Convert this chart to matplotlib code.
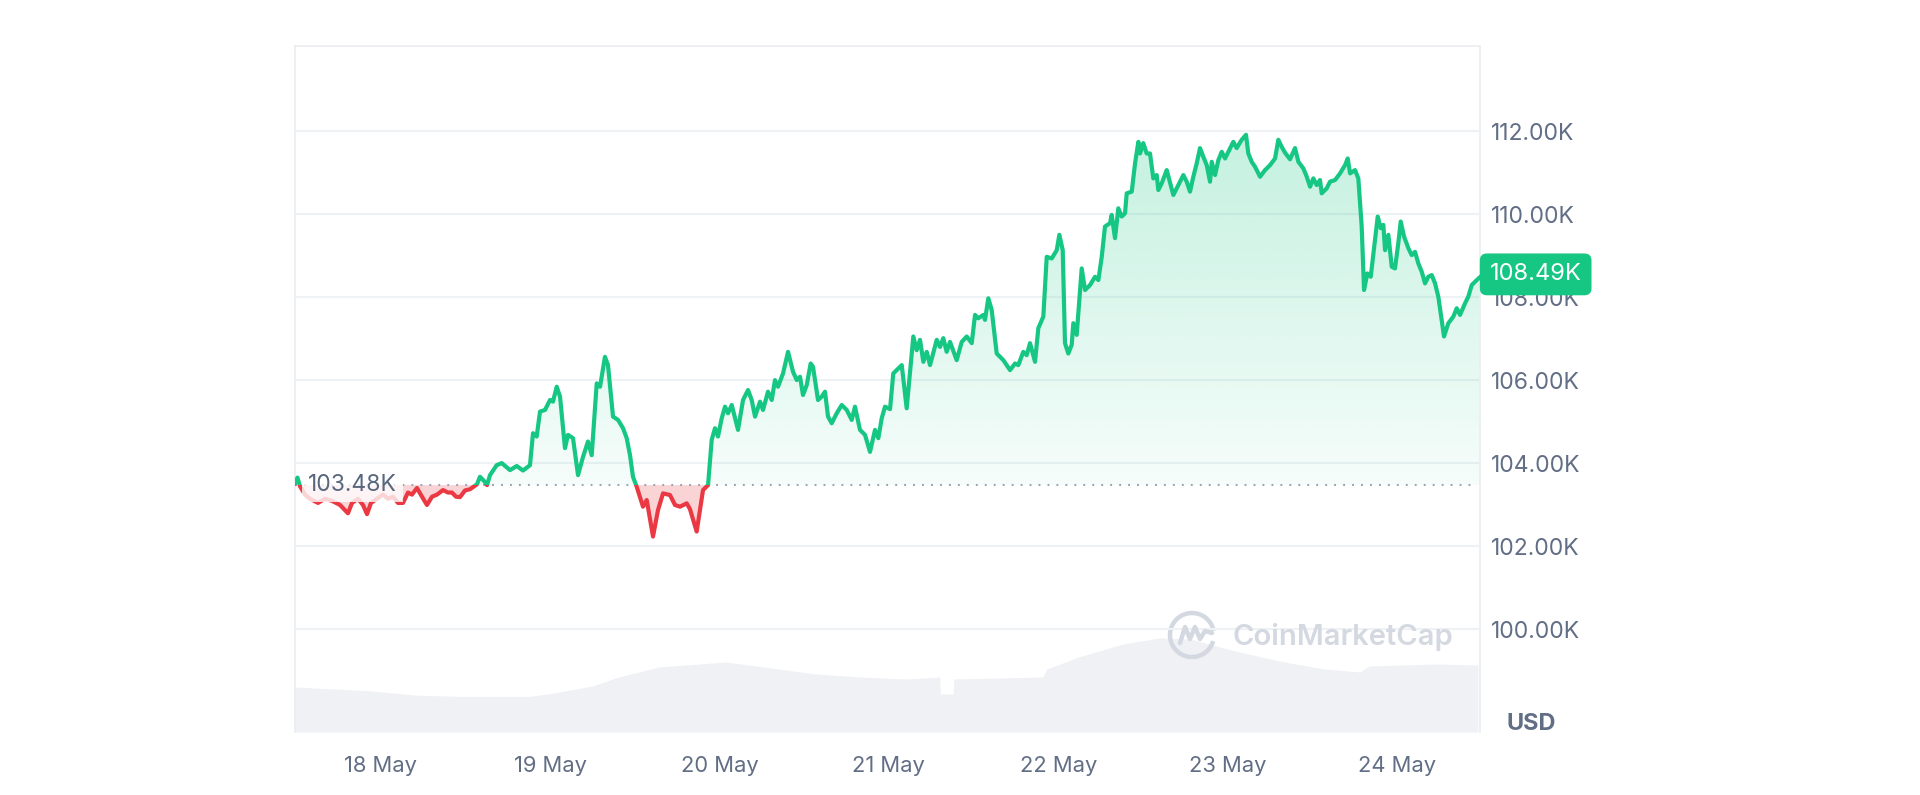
import numpy as np
import matplotlib
matplotlib.use("Agg")
import matplotlib.pyplot as plt
from matplotlib.path import Path
from matplotlib.patches import Rectangle, Arc
from matplotlib.lines import Line2D

plt.rcParams['font.family'] = ['Inter', 'DejaVu Sans']

# hours since 18 May 00:00, BTC price in thousands of USD
hours = [-12.19, -11.84, -11.48, -10.77, -10.07, -8.93, -7.94, -6.95, -5.81, -4.68,
         -4.11, -3.26, -2.55, -1.98, -1.42, -0.57, 0.28, 0.99, 1.70, 2.41,
         3.12, 3.83, 4.39, 5.10, 5.81, 6.52, 7.23, 7.94, 8.79, 9.50,
         10.06, 10.63, 11.20, 11.91, 12.62, 13.04, 13.61, 14.03, 14.60, 15.03,
         15.45, 16.40, 17.11, 18.29, 19.24, 20.13, 21.12, 21.55, 22.07, 22.54,
         23.25, 23.96, 24.38, 24.91, 25.38, 26.08, 26.51, 27.22, 27.93, 28.64,
         29.34, 29.87, 30.58, 31.05, 31.75, 32.18, 32.89, 33.60, 34.31, 34.83,
         35.30, 35.72, 36.25, 37.14, 37.67, 38.56, 39.27, 39.98, 40.97, 41.68,
         42.39, 43.34, 43.80, 44.75, 45.65, 46.36, 46.88, 47.35, 47.77, 48.30,
         48.77, 49.19, 49.72, 50.61, 51.32, 52.03, 52.55, 53.02, 53.73, 54.15,
         54.86, 55.39, 55.85, 56.28, 56.99, 57.70, 58.41, 58.93, 59.40, 59.82,
         60.35, 60.91, 61.24, 61.95, 62.47, 62.94, 63.37, 63.89, 64.60, 65.31,
         66.02, 66.73, 67.19, 67.90, 68.61, 69.32, 70.03, 70.50, 70.98, 71.45,
         72.16, 72.62, 73.82, 74.52, 75.46, 75.94, 76.41, 76.88, 77.36, 77.83,
         78.78, 79.24, 79.71, 80.19, 80.66, 81.61, 82.32, 83.03, 83.74, 84.21,
         84.67, 85.38, 85.62, 86.09, 86.57, 87.28, 88.22, 89.17, 89.88, 90.34,
         91.05, 91.53, 92.00, 92.71, 93.18, 93.89, 94.37, 95.08, 95.79, 96.16,
         96.64, 96.96, 97.43, 97.91, 98.14, 98.62, 99.33, 99.80, 100.51, 101.22,
         101.69, 102.17, 102.63, 103.34, 103.58, 104.05, 104.52, 105.00, 105.47, 105.71,
         106.42, 106.89, 107.36, 107.60, 108.06, 108.54, 109.01, 109.48, 109.96, 110.19,
         110.67, 111.38, 112.32, 113.03, 113.74, 114.21, 114.68, 115.15, 115.63, 116.10,
         116.57, 117.05, 117.52, 117.76, 118.23, 118.70, 119.18, 119.65, 120.12, 120.82,
         121.30, 122.01, 122.62, 122.95, 123.43, 123.90, 124.61, 125.32, 126.03, 126.74,
         127.20, 127.68, 128.15, 128.86, 129.57, 130.04, 130.75, 131.23, 131.70, 132.16,
         132.64, 133.11, 133.35, 134.06, 134.53, 135.24, 135.95, 136.66, 137.04, 137.37,
         138.08, 138.54, 139.02, 139.35, 139.82, 140.30, 140.91, 141.29, 141.72, 142.09,
         142.33, 142.80, 143.28, 143.74, 144.21, 144.55, 145.02, 145.63, 146.11, 146.58,
         147.05, 147.53, 148.00, 148.46, 148.95, 149.42, 149.88, 150.36, 150.69, 151.30,
         152.01, 152.49, 152.96, 153.67, 154.13, 154.62, 155.33, 155.79]
price_k = [103.52, 103.66, 103.45, 103.25, 103.15, 103.05, 103.15, 103.10, 103.00, 102.80,
           103.05, 103.15, 103.00, 102.78, 103.05, 103.15, 103.25, 103.15, 103.20, 103.05,
           103.05, 103.30, 103.25, 103.41, 103.20, 103.00, 103.20, 103.25, 103.36, 103.30,
           103.30, 103.20, 103.19, 103.35, 103.38, 103.43, 103.50, 103.68, 103.58, 103.48,
           103.72, 103.96, 104.01, 103.84, 103.94, 103.83, 103.96, 104.73, 104.65, 105.25,
           105.29, 105.53, 105.49, 105.85, 105.61, 104.37, 104.69, 104.61, 103.72, 104.16,
           104.53, 104.20, 105.93, 105.85, 106.57, 106.37, 105.13, 105.05, 104.85, 104.61,
           104.20, 103.68, 103.44, 102.96, 103.12, 102.24, 102.88, 103.28, 103.24, 103.00,
           102.96, 103.04, 102.90, 102.36, 103.36, 103.48, 104.57, 104.85, 104.65, 105.09,
           105.37, 105.21, 105.41, 104.81, 105.53, 105.77, 105.53, 105.13, 105.49, 105.29,
           105.73, 105.53, 106.01, 105.85, 106.17, 106.69, 106.21, 106.01, 106.09, 105.65,
           105.89, 106.41, 106.33, 105.53, 105.61, 105.73, 105.13, 104.97, 105.21, 105.41,
           105.29, 105.05, 105.37, 104.81, 104.69, 104.28, 104.81, 104.61, 105.09, 105.37,
           105.31, 106.17, 106.37, 105.33, 107.06, 106.73, 106.98, 106.45, 106.69, 106.37,
           106.98, 106.81, 107.02, 106.69, 106.93, 106.49, 106.93, 107.06, 106.90, 107.58,
           107.50, 107.58, 107.46, 107.98, 107.70, 106.65, 106.49, 106.25, 106.41, 106.37,
           106.69, 106.61, 106.90, 106.45, 107.26, 107.54, 108.98, 108.94, 109.14, 109.51,
           109.14, 106.90, 106.65, 106.86, 107.38, 107.10, 108.70, 108.18, 108.30, 108.50,
           108.42, 108.98, 109.71, 109.79, 109.99, 109.43, 110.15, 109.95, 110.03, 110.51,
           110.55, 111.23, 111.75, 111.47, 111.72, 111.47, 111.47, 110.87, 110.95, 110.59,
           110.75, 111.07, 110.47, 110.71, 110.95, 110.79, 110.55, 110.91, 111.23, 111.60,
           111.39, 111.19, 110.79, 111.27, 110.95, 111.31, 111.51, 111.35, 111.51, 111.75,
           111.60, 111.80, 111.92, 111.47, 111.27, 111.15, 110.91, 111.07, 111.19, 111.35,
           111.80, 111.63, 111.49, 111.33, 111.60, 111.27, 111.11, 110.91, 110.67, 110.87,
           110.71, 110.83, 110.51, 110.63, 110.79, 110.83, 110.99, 111.19, 111.35, 110.99,
           111.07, 110.87, 109.71, 108.18, 108.58, 108.50, 109.39, 109.95, 109.67, 109.75,
           109.14, 109.51, 108.74, 108.70, 109.31, 109.83, 109.47, 109.19, 109.02, 109.10,
           108.82, 108.62, 108.34, 108.50, 108.54, 108.34, 108.02, 107.46, 107.06, 107.38,
           107.54, 107.74, 107.58, 107.86, 108.02, 108.30, 108.42, 108.49]

# 24h volume, billions of USD
vol_hours = [-12.19, -1.69, 4.68, 10.9, 21.1, 23.7, 29.98, 33.7, 39.4, 48.9,
             55.3, 61.7, 67.9, 74.3, 79.2, 79.3, 81.1, 81.2, 93.8, 94.4,
             98.9, 105.2, 110.3, 114.7, 121.1, 127.3, 133.7, 138.8, 140.1, 149.6, 155.5]
vol_bn = [22.5, 20.6, 18.5, 17.8, 17.8, 19.0, 23.0, 27.5, 32.5, 35.0,
          32.0, 29.0, 27.5, 26.5, 27.5, 19.0, 19.0, 26.5, 27.5, 31.5,
          37.5, 44.0, 47.0, 46.5, 40.5, 35.5, 31.5, 30.0, 33.0, 34.0, 33.5]

day_hours = [0, 24, 48, 72, 96, 120, 144]
day_labels = ["18 May", "19 May", "20 May", "21 May", "22 May", "23 May", "24 May"]
price_ticks = [100, 102, 104, 106, 108, 110, 112]
open_price = 103.48
last_price = 108.49

GREEN = "#16c784"
RED = "#ea3943"
GREY = "#616e85"
GRID = "#eff2f5"

W, H = 1920, 795
fig = plt.figure(figsize=(W / 100, H / 100), dpi=100)
rect = [295 / W, 1 - 732 / H, 1185 / W, 686 / H]
axv = fig.add_axes(rect, zorder=0)
ax = fig.add_axes(rect, zorder=1)
ax.patch.set_alpha(0)

t = np.array(hours)
p = np.array(price_k)
xlim = (t[0], t[-1])
ylim = (97.53, 114.06)

# volume
axv.fill_between(vol_hours, vol_bn, 0, color="#eff1f5", lw=0)
axv.set_xlim(xlim)
axv.set_ylim(0, 343)
axv.axis("off")

# green gradient area above open price
up = ax.fill_between(t, p, open_price, where=p >= open_price, interpolate=True,
                     facecolor="none", edgecolor="none")
clip_up = Path.make_compound_path(*up.get_paths())
grad = np.zeros((256, 1, 4))
grad[..., :3] = matplotlib.colors.to_rgb(GREEN)
grad[:, 0, 3] = np.linspace(0.25, 0.04, 256)
im = ax.imshow(grad, extent=[t[0], t[-1], open_price, p.max()], aspect="auto",
               origin="upper", zorder=1, interpolation="bilinear")
im.set_clip_path(clip_up, transform=ax.transData)

# red area below open price
ax.fill_between(t, p, open_price, where=p <= open_price, interpolate=True,
                facecolor=RED, alpha=0.22, lw=0, zorder=1)

# price line, coloured by side of open price
ln_up, = ax.plot(t, p, color=GREEN, lw=3.0, zorder=3, solid_joinstyle="round")
ln_up.set_clip_path(Rectangle((t[0], open_price), t[-1] - t[0], 100, transform=ax.transData))
ln_dn, = ax.plot(t, p, color=RED, lw=3.0, zorder=3, solid_joinstyle="round")
ln_dn.set_clip_path(Rectangle((t[0], open_price - 100), t[-1] - t[0], 100, transform=ax.transData))

ax.hlines(open_price, t[0], t[-1] - 0.5, color="#9aa3b5", lw=1.5, linestyles=(0, (0.9, 3.4)), zorder=2)

ax.text(0.011, open_price, f"{open_price:.2f}K", transform=ax.get_yaxis_transform(),
        ha="left", va="center", fontsize=16.5, color="#58667e", zorder=5,
        bbox=dict(boxstyle="square,pad=0.28", fc="white", ec="none", alpha=0.78))

ax.set_xlim(xlim)
ax.set_ylim(ylim)
ax.set_xticks(day_hours)
ax.set_xticklabels(day_labels)
ax.set_yticks(price_ticks)
ax.set_yticklabels([f"{v:.2f}K" for v in price_ticks])
ax.yaxis.tick_right()
ax.tick_params(axis="y", length=0, pad=8, labelsize=16.5, labelcolor=GREY)
ax.tick_params(axis="x", length=0, pad=17, labelsize=15.8, labelcolor=GREY)
ax.grid(axis="y", color=GRID, lw=1.5)
ax.set_axisbelow(True)
for side in ["top", "left", "right"]:
    ax.spines[side].set_color("#eceef2")
    ax.spines[side].set_linewidth(1.3)
ax.spines["bottom"].set_visible(False)

# last price tag
ax.annotate(f"{last_price:.2f}K", xy=(1, last_price), xycoords=ax.get_yaxis_transform(),
            xytext=(7, 2), textcoords="offset points", ha="left", va="center",
            fontsize=17, color="white", zorder=10, annotation_clip=False,
            bbox=dict(boxstyle="round,pad=0.42,rounding_size=0.3", fc=GREEN, ec="none"))

fig.text(1531 / W, 1 - 724 / H, "USD", ha="center", va="center", fontsize=17,
         fontweight="bold", color=GREY)

# watermark
WM = "#d3d8e1"
fig.text(1233 / W, 1 - 637 / H, "CoinMarketCap", ha="left", va="center",
         fontsize=21, fontweight="semibold", color=WM)
cx, cy, r = 1192, 635, 22
fig.add_artist(Arc((cx / W, 1 - cy / H), 2 * r / W, 2 * r / H, theta1=25, theta2=325,
                   transform=fig.transFigure, color=WM, lw=3.2))
mx = np.array([-12, -7, -2, 3, 8, 13, 20])
my = np.array([8, -8, 4, -8, 4, -4, -2])
fig.add_artist(Line2D((cx + mx) / W, 1 - (cy + my) / H, transform=fig.transFigure,
                      color=WM, lw=3.2, solid_joinstyle="round", solid_capstyle="round"))

fig.savefig("out.png", dpi=100, facecolor="white")
